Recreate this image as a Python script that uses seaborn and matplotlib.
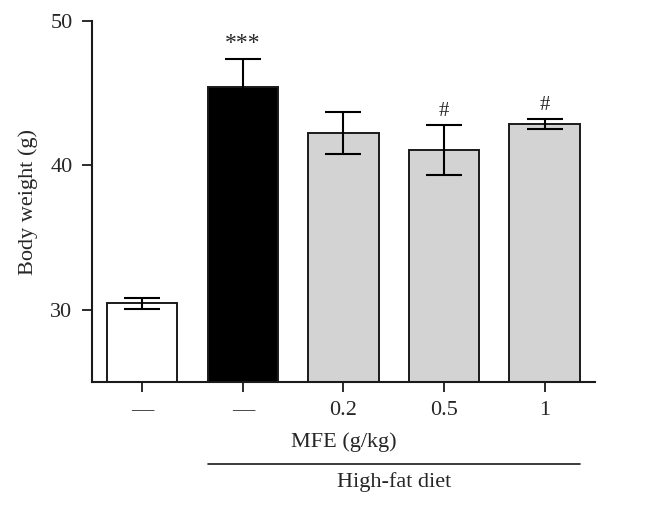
import matplotlib
matplotlib.use("Agg")
import matplotlib.pyplot as plt
import matplotlib.transforms as mtransforms
import pandas as pd
import seaborn as sns

groups = ["Control", "HFD", "HFD+MFE 0.2", "HFD+MFE 0.5", "HFD+MFE 1"]
tick_labels = ["\u2014", "\u2014", "0.2", "0.5", "1"]
body_weight = [30.45, 45.45, 42.25, 41.05, 42.87]
sem = [0.37, 1.95, 1.48, 1.73, 0.36]
marks = ["", "***", "", "#", "#"]
colors = ["white", "black", "#d3d3d3", "#d3d3d3", "#d3d3d3"]

df = pd.DataFrame({"group": groups, "weight": body_weight})

sns.set_style("ticks")
plt.rcParams["font.family"] = ["Liberation Serif", "DejaVu Serif"]

fig = plt.figure(figsize=(6.46, 5.07), dpi=100)
ax = fig.add_axes([0.1424, 0.2465, 0.7786, 0.7121])

sns.barplot(data=df, x="group", y="weight", hue="group", palette=colors,
            width=0.7, edgecolor="#1a1a1a", linewidth=1.4, legend=False, ax=ax)

xs = range(len(groups))
ax.errorbar(xs, body_weight, yerr=sem, fmt="none", ecolor="black",
            elinewidth=1.5, capsize=13, capthick=1.5, zorder=5)

for x, y, e, m in zip(xs, body_weight, sem, marks):
    if m:
        ax.annotate(m, (x, y + e), xytext=(0, 3), textcoords="offset points",
                    ha="center", va="bottom", fontsize=15 if m == "#" else 17)

ax.set_ylim(25, 50)
ax.set_xlim(-0.5, 4.5)
ax.set_yticks([30, 40, 50])
ax.set_xticks(list(xs))
ax.set_xticklabels(tick_labels)
ax.set_xlabel("")
ax.set_ylabel("Body weight (g)", fontsize=16, labelpad=9)
ax.tick_params(axis="both", labelsize=16, length=7, width=1.3, pad=7,
               color="#1a1a1a")
for s in ["left", "bottom"]:
    ax.spines[s].set_linewidth(1.5)
    ax.spines[s].set_color("#1a1a1a")
sns.despine(ax=ax)

trans = mtransforms.blended_transform_factory(ax.transData, ax.transAxes)
ax.text(2.0, -0.166, "MFE (g/kg)", transform=trans, ha="center", va="center",
        fontsize=16)
ax.plot([0.65, 4.35], [-0.227, -0.227], transform=trans, color="#1a1a1a",
        lw=1.2, clip_on=False)
ax.text(2.5, -0.277, "High-fat diet", transform=trans, ha="center",
        va="center", fontsize=16)

fig.savefig("out.png", dpi=100)
